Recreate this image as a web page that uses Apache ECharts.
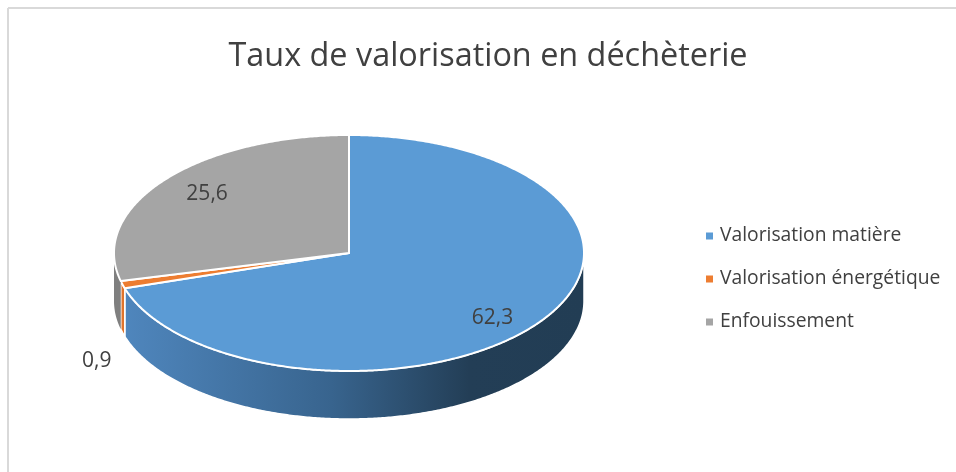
<!DOCTYPE html>
<html lang="fr">
<head>
    <meta charset="UTF-8">
    <title>Taux de valorisation en déchèterie</title>
    <script src="https://cdn.jsdelivr.net/npm/echarts@6/dist/echarts.min.js"></script>
    <style>
        html, body { margin: 0; padding: 0; background: #fff; }
    </style>
</head>
<body>
    <div id="main" style="width: 956px; height: 472px;"></div>
    <script>
        // donnees
        var categories = ['Valorisation matière', 'Valorisation énergétique', 'Enfouissement'];
        var values = [62.3, 0.9, 25.6];
        var colors = ['#5b9bd5', '#ed7d31', '#a5a5a5'];
        var valueLabels = ['62,3', '0,9', '25,6'];

        // ellipse du camembert 3D
        var cx = 349, cy = 253, rx = 235, ry = 118, depth = 48;
        // decalage de chaque etiquette depuis le milieu de sa tranche sur le bord
        var labelShift = [[-46, -5], [-26, 76], [43, 14]];

        var total = values.reduce(function (a, b) { return a + b; }, 0);

        // angles en degres, sens horaire depuis le haut
        function sliceAngles(i) {
            var before = 0;
            for (var k = 0; k < i; k++) before += values[k];
            return [before / total * 360, (before + values[i]) / total * 360];
        }

        function rim(deg, dy) {
            var r = deg * Math.PI / 180;
            return [cx + rx * Math.sin(r), cy - ry * Math.cos(r) + (dy || 0)];
        }

        function arcPoints(from, to, dy) {
            var pts = [];
            var n = Math.max(2, Math.ceil(Math.abs(to - from) * 2));
            for (var k = 0; k <= n; k++) {
                pts.push(rim(from + (to - from) * k / n, dy));
            }
            return pts;
        }

        function wallFill(i) {
            if (i === 0) {
                return new echarts.graphic.LinearGradient(0, 0, 1, 0, [
                    { offset: 0, color: '#4f86bd' },
                    { offset: 0.45, color: '#38648e' },
                    { offset: 0.75, color: '#233e56' },
                    { offset: 1, color: '#223d54' }
                ]);
            }
            return i === 1 ? '#e0742c' : '#7f7f7f';
        }

        function renderSlice(i) {
            return function (params, api) {
                var a = sliceAngles(i);
                var children = [];
                // paroi : seulement la partie visible devant (90 a 270 degres)
                var from = Math.max(a[0], 90), to = Math.min(a[1], 270);
                if (to > from) {
                    children.push({
                        type: 'polygon',
                        shape: { points: arcPoints(from, to, 0).concat(arcPoints(to, from, depth)) },
                        style: { fill: wallFill(i), stroke: '#fff', lineWidth: i === 2 ? 0 : 1.5 }
                    });
                }
                // dessus
                children.push({
                    type: 'polygon',
                    shape: { points: [[cx, cy]].concat(arcPoints(a[0], a[1], 0)) },
                    style: { fill: api.visual('color'), stroke: '#fff', lineWidth: 2, lineJoin: 'round' }
                });
                var mid = rim((a[0] + a[1]) / 2, 0);
                children.push({
                    type: 'text',
                    style: {
                        x: mid[0] + labelShift[i][0],
                        y: mid[1] + labelShift[i][1],
                        text: valueLabels[i],
                        align: 'center',
                        verticalAlign: 'middle',
                        fill: '#404040',
                        font: '21px "Open Sans"'
                    }
                });
                return { type: 'group', children: children };
            };
        }

        var chartDom = document.getElementById('main');
        var myChart = echarts.init(chartDom);

        var option = {
            animation: false,
            title: {
                text: 'Taux de valorisation en déchèterie',
                left: 483,
                top: 36,
                textAlign: 'center',
                textStyle: {
                    fontFamily: 'Open Sans',
                    fontWeight: 'normal',
                    fontSize: 32.4,
                    color: '#404040'
                }
            },
            legend: {
                orient: 'vertical',
                left: 701,
                top: 219,
                icon: 'rect',
                itemWidth: 7,
                itemHeight: 7,
                itemGap: 19,
                data: categories,
                selectedMode: false,
                textStyle: {
                    fontFamily: 'Open Sans',
                    fontSize: 19.3,
                    color: '#404040',
                    lineHeight: 24,
                    padding: [0, 0, 0, 2]
                }
            },
            graphic: [
                { type: 'line', shape: { x1: 8, y1: 8, x2: 956, y2: 8 }, style: { stroke: '#d9d9d9', lineWidth: 2 } },
                { type: 'line', shape: { x1: 8, y1: 8, x2: 8, y2: 472 }, style: { stroke: '#d9d9d9', lineWidth: 2 } }
            ],
            series: categories.map(function (name, i) {
                return {
                    type: 'custom',
                    name: name,
                    coordinateSystem: 'none',
                    itemStyle: { color: colors[i] },
                    data: [[values[i]]],
                    renderItem: renderSlice(i)
                };
            })
        };

        option && myChart.setOption(option);
    </script>
</body>
</html>
